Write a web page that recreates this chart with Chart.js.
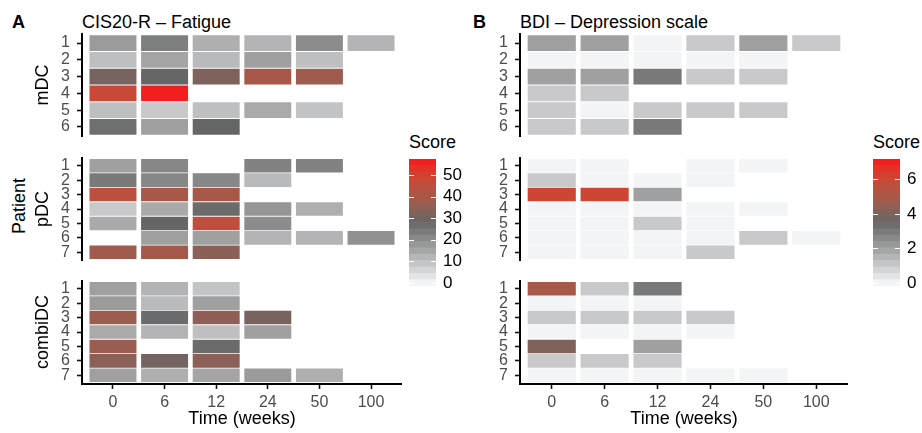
<!DOCTYPE html>
<html>
<head>
<meta charset="utf-8">
<script src="https://cdn.jsdelivr.net/npm/chart.js@4.4.0/dist/chart.umd.min.js"></script>
<style>
  body { margin: 0; width: 922px; height: 433px; position: relative; background: #fff; overflow: hidden;
         font-family: "Liberation Sans", Arial, sans-serif; }
  canvas { position: absolute; }
  .lbl { position: absolute; white-space: nowrap; line-height: 20px; font-size: 18px; color: #000; }
</style>
</head>
<body>
<div class="lbl" style="left:12px;top:12px;font-weight:bold">A</div>
<div class="lbl" style="left:82px;top:12px">CIS20-R – Fatigue</div>
<div class="lbl" style="left:473px;top:12px;font-weight:bold">B</div>
<div class="lbl" style="left:520px;top:12px">BDI – Depression scale</div>
<div class="lbl" style="left:19px;top:206px;transform:translate(-50%,-50%) rotate(-90deg)">Patient</div>
<div class="lbl" style="left:409px;top:132px">Score</div>
<div class="lbl" style="left:873px;top:132px">Score</div>

<canvas id="fa1" width="370" height="104" style="left:32px;top:33px"></canvas>
<canvas id="fa2" width="370" height="104" style="left:32px;top:157px"></canvas>
<canvas id="fa3" width="370" height="153" style="left:32px;top:280px"></canvas>
<canvas id="fb1" width="368" height="104" style="left:480px;top:33px"></canvas>
<canvas id="fb2" width="368" height="104" style="left:480px;top:157px"></canvas>
<canvas id="fb3" width="368" height="153" style="left:480px;top:280px"></canvas>
<canvas id="cba" width="60" height="147" style="left:409px;top:149px"></canvas>
<canvas id="cbb" width="49" height="147" style="left:873px;top:149px"></canvas>

<script>
// ── Data ─────────────────────────────────────────────────
const TIMES = ['0', '6', '12', '24', '50', '100'];
const MDC_IDS = ['1', '2', '3', '4', '5', '6'];
const PDC_IDS = ['1', '2', '3', '4', '5', '6', '7'];
const COMBI_IDS = ['1', '2', '3', '4', '5', '6', '7'];

// CIS20-R fatigue, rows = patients, cols = TIMES (null = no measurement)
const FAT_MDC = [
  [17, 23, 13, 12, 20, 12],
  [10, 15, 11, 16, 10, null],
  [31, 28, 32, 40, 38, null],
  [47, 56, null, null, null, null],
  [10, 8, 10, 14, 9, null],
  [26, 16, 28, null, null, null],
];
const FAT_PDC = [
  [16, 21, null, 22, 22, null],
  [24, 21, 21, 11, null, null],
  [44, 40, 40, null, null, null],
  [8, 14, 27, 18, 13, null],
  [14, 28, 45, 20, null, null],
  [null, 16, 16, 12, 12, 19],
  [38, 39, 34, null, null, null],
];
const FAT_COMBI = [
  [16, 12, 9, null, null, null],
  [17, 11, 16, null, null, null],
  [37, 27, 35, 31, null, null],
  [14, 12, 10, 16, null, null],
  [37, null, 27, null, null, null],
  [34, 30, 34, null, null, null],
  [16, 13, 15, 17, 13, null],
];

// BDI depression
const BDI_MDC = [
  [2, 2, 0, 1, 2, 1],
  [0, 0, 0, 0, 0, null],
  [2, 2, 3, 1, 1, null],
  [1, 1, null, null, null, null],
  [1, 0, 1, 1, 1, null],
  [1, 1, 3, null, null, null],
];
const BDI_PDC = [
  [0, 0, null, 0, 0, null],
  [1, 0, 0, 0, null, null],
  [6, 6, 2, null, null, null],
  [0, 0, 0, 0, 0, null],
  [0, 0, 1, 0, null, null],
  [0, 0, 0, 0, 1, 0],
  [0, 0, 0, 1, null, null],
];
const BDI_COMBI = [
  [5, 1, 3, null, null, null],
  [0, 0, 0, null, null, null],
  [1, 1, 1, 1, null, null],
  [0, 0, 0, 0, null, null],
  [4, null, 2, null, null, null],
  [1, 1, 1, null, null, null],
  [0, 0, 0, 0, 0, null],
];

const FAT_MAX = 56, BDI_MAX = 7;
const FAT_TICKS = [0, 10, 20, 30, 40, 50];
const BDI_TICKS = [0, 2, 4, 6];

const FONT = '"Liberation Sans", Arial, sans-serif';
const TICK_GREY = '#4D4D4D';

// ── Colour scale (Lab interpolation, like ggplot) ────────
const LOW = '#F3F4F6', MID = '#666666', HIGH = '#F0201E';

function hexRgb(h) {
  return [1, 3, 5].map(i => parseInt(h.substr(i, 2), 16));
}
function toLab(rgb) {
  const lin = rgb.map(c => { c /= 255; return c <= 0.04045 ? c / 12.92 : Math.pow((c + 0.055) / 1.055, 2.4); });
  const X = (0.4124 * lin[0] + 0.3576 * lin[1] + 0.1805 * lin[2]) / 0.95047;
  const Y = 0.2126 * lin[0] + 0.7152 * lin[1] + 0.0722 * lin[2];
  const Z = (0.0193 * lin[0] + 0.1192 * lin[1] + 0.9505 * lin[2]) / 1.08883;
  const f = t => t > 0.008856 ? Math.cbrt(t) : 7.787 * t + 16 / 116;
  return [116 * f(Y) - 16, 500 * (f(X) - f(Y)), 200 * (f(Y) - f(Z))];
}
function fromLab([L, a, b]) {
  const fy = (L + 16) / 116, fx = fy + a / 500, fz = fy - b / 200;
  const inv = t => t * t * t > 0.008856 ? t * t * t : (t - 16 / 116) / 7.787;
  const X = inv(fx) * 0.95047, Y = inv(fy), Z = inv(fz) * 1.08883;
  const lin = [
    3.2406 * X - 1.5372 * Y - 0.4986 * Z,
    -0.9689 * X + 1.8758 * Y + 0.0415 * Z,
    0.0557 * X - 0.2040 * Y + 1.0570 * Z,
  ];
  const c = lin.map(v => {
    v = v <= 0.0031308 ? 12.92 * v : 1.055 * Math.pow(v, 1 / 2.4) - 0.055;
    return Math.round(Math.max(0, Math.min(1, v)) * 255);
  });
  return `rgb(${c[0]},${c[1]},${c[2]})`;
}
const STOPS = [LOW, MID, HIGH].map(h => toLab(hexRgb(h)));

function scoreColor(v, max) {
  const t = Math.max(0, Math.min(1, v / max));
  const lo = t <= 0.5 ? STOPS[0] : STOPS[1];
  const hi = t <= 0.5 ? STOPS[1] : STOPS[2];
  const u = t <= 0.5 ? t / 0.5 : (t - 0.5) / 0.5;
  return fromLab(lo.map((x, k) => x + (hi[k] - x) * u));
}

// ── Heatmap facet ────────────────────────────────────────
function facet(id, ids, values, max, opt) {
  const datasets = values.map((row, r) => {
    const cells = [];
    row.forEach((v, i) => { if (v != null) cells.push({ i, v }); });
    return {
      data: cells.map(c => ({ x: c.i, y: [r + 0.53, r + 1.47] })),
      backgroundColor: cells.map(c => scoreColor(c.v, max)),
      borderWidth: 0,
      grouped: false,
      barPercentage: 0.91,
      categoryPercentage: 1,
    };
  });

  new Chart(document.getElementById(id), {
    type: 'bar',
    data: { datasets },
    options: {
      responsive: false, animation: false, devicePixelRatio: 1, events: [],
      layout: { padding: 0 },
      plugins: { legend: { display: false }, tooltip: { enabled: false } },
      scales: {
        x: {
          type: 'linear', min: -0.6, max: TIMES.length - 0.4, offset: false,
          display: !!opt.showX,
          afterBuildTicks: s => { s.ticks = TIMES.map((_, i) => ({ value: i })); },
          afterFit: s => {
            s.height = opt.showX ? 49 : 0;
            s.paddingLeft = 0; s.paddingRight = 0;
          },
          grid: { offset: false, drawOnChartArea: false, tickLength: 5, tickWidth: 1.6, tickColor: '#111' },
          border: { display: true, color: '#000', width: 2 },
          ticks: { autoSkip: false, maxRotation: 0, padding: 4, color: TICK_GREY,
                   font: { family: FONT, size: 16 }, callback: v => TIMES[v] },
          title: { display: true, text: 'Time (weeks)', color: '#000',
                   font: { family: FONT, size: 18 }, padding: { top: 0, bottom: 3 } },
        },
        y: {
          type: 'linear', reverse: true, min: 0.4, max: ids.length + 0.6,
          afterBuildTicks: s => { s.ticks = ids.map((_, r) => ({ value: r + 1 })); },
          afterFit: s => { s.width = opt.yWidth; s.paddingTop = 0; s.paddingBottom = 0; },
          grid: { drawOnChartArea: false, tickLength: 5, tickWidth: 1.6, tickColor: '#111' },
          border: { display: true, color: '#000', width: 2 },
          ticks: { autoSkip: false, padding: 7, color: TICK_GREY, font: { family: FONT, size: 16 },
                   callback: v => ids[v - 1] },
          title: { display: !!opt.strip, text: opt.strip || '', color: '#000',
                   font: { family: FONT, size: 18 }, padding: { top: 0, bottom: 0 } },
        },
      },
    },
  });
}

// ── Colour bar legend ────────────────────────────────────
const cbTicks = {
  id: 'cbTicks',
  afterDatasetsDraw(chart) {
    const y = chart.scales.y;
    const { left, right } = chart.chartArea;
    const ctx = chart.ctx;
    ctx.save();
    ctx.strokeStyle = '#fff';
    ctx.lineWidth = 1;
    y.ticks.forEach(t => {
      const py = Math.round(y.getPixelForValue(t.value)) + 0.5;
      ctx.beginPath();
      ctx.moveTo(left, py); ctx.lineTo(left + 5, py);
      ctx.moveTo(right - 5, py); ctx.lineTo(right, py);
      ctx.stroke();
    });
    ctx.restore();
  },
};

function colourBar(id, max, ticks, yWidth) {
  const nbin = 20;
  const half = max / (2 * (nbin - 1));
  const datasets = [];
  for (let i = 0; i < nbin; i++) {
    const c = i * max / (nbin - 1);
    datasets.push({
      data: [[c - half, c + half]],
      backgroundColor: scoreColor(c, max),
      borderWidth: 0, grouped: false, barPercentage: 1, categoryPercentage: 1,
    });
  }
  new Chart(document.getElementById(id), {
    type: 'bar',
    data: { labels: [''], datasets },
    options: {
      responsive: false, animation: false, devicePixelRatio: 1, events: [],
      layout: { padding: { top: 10, bottom: 10, left: 0, right: 0 } },
      plugins: { legend: { display: false }, tooltip: { enabled: false } },
      scales: {
        x: { display: false },
        y: {
          position: 'right', min: -half, max: max + half,
          afterBuildTicks: s => { s.ticks = ticks.map(v => ({ value: v })); },
          afterFit: s => { s.width = yWidth; s.paddingTop = 0; s.paddingBottom = 0; },
          grid: { display: false, drawTicks: false, tickLength: 0 },
          border: { display: false },
          ticks: { autoSkip: false, padding: 7, color: '#000', font: { family: FONT, size: 17 } },
        },
      },
    },
    plugins: [cbTicks],
  });
}

// ── Init ─────────────────────────────────────────────────
facet('fa1', MDC_IDS, FAT_MDC, FAT_MAX, { yWidth: 50, strip: 'mDC' });
facet('fa2', PDC_IDS, FAT_PDC, FAT_MAX, { yWidth: 50, strip: 'pDC' });
facet('fa3', COMBI_IDS, FAT_COMBI, FAT_MAX, { yWidth: 50, strip: 'combiDC', showX: true });
facet('fb1', MDC_IDS, BDI_MDC, BDI_MAX, { yWidth: 40 });
facet('fb2', PDC_IDS, BDI_PDC, BDI_MAX, { yWidth: 40 });
facet('fb3', COMBI_IDS, BDI_COMBI, BDI_MAX, { yWidth: 40, showX: true });
colourBar('cba', FAT_MAX, FAT_TICKS, 33);
colourBar('cbb', BDI_MAX, BDI_TICKS, 22);
</script>
</body>
</html>
